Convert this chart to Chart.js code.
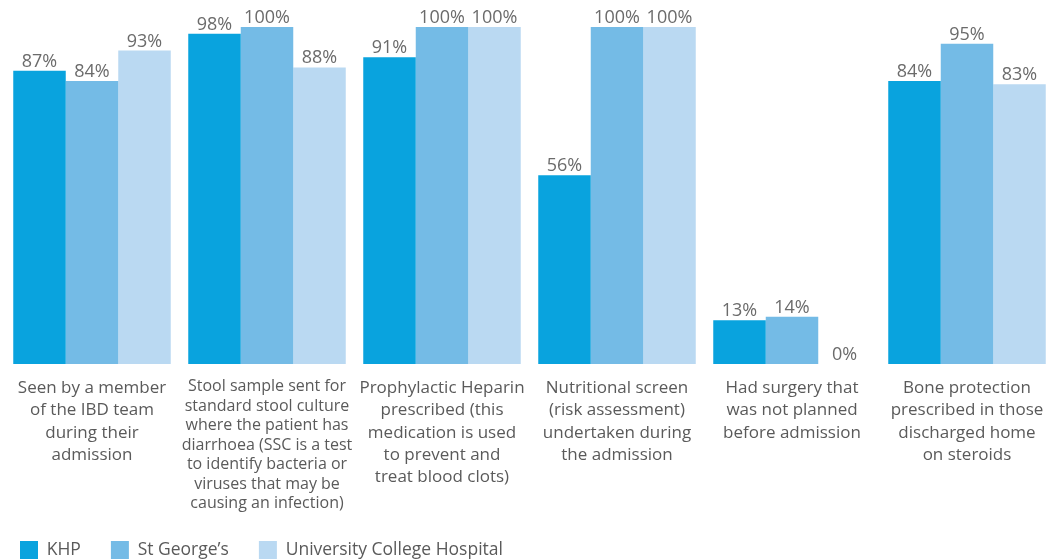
<!DOCTYPE html>
<html>
<head>
<meta charset="utf-8">
<script src="https://cdn.jsdelivr.net/npm/chart.js@4"></script>
<style>
  html, body { margin: 0; padding: 0; background: #fff; overflow: hidden; }
  #wrap { position: relative; width: 1060px; height: 560px; }
</style>
</head>
<body>
<div id="wrap"><canvas id="chart"></canvas></div>
<script>
'use strict';
const CATEGORIES = [
  ['Seen by a member', 'of the IBD team', 'during their', 'admission'],
  ['Stool sample sent for', 'standard stool culture', 'where the patient has', 'diarrhoea (SSC is a test', 'to identify bacteria or', 'viruses that may be', 'causing an infection)'],
  ['Prophylactic Heparin', 'prescribed (this', 'medication is used', 'to prevent and', 'treat blood clots)'],
  ['Nutritional screen', '(risk assessment)', 'undertaken during', 'the admission'],
  ['Had surgery that', 'was not planned', 'before admission'],
  ['Bone protection', 'prescribed in those', 'discharged home', 'on steroids'],
];
const SERIES = ['KHP', 'St George\u2019s', 'University College Hospital'];
const KHP = [87, 98, 91, 56, 13, 84];
const ST_GEORGES = [84, 100, 100, 100, 14, 95];
const UCH = [93, 88, 100, 100, 0, 83];
const COLORS = ['#09a3de', '#74bbe6', '#bad9f2'];

const FONT = '"Open Sans", "Noto Sans", sans-serif';
const BASELINE_Y = 364;

const valueLabels = {
  id: 'valueLabels',
  afterDatasetsDraw(chart) {
    const ctx = chart.ctx;
    ctx.save();
    ctx.font = `18px ${FONT}`;
    ctx.fillStyle = '#6b6b6b';
    ctx.textAlign = 'center';
    ctx.textBaseline = 'alphabetic';
    chart.data.datasets.forEach((ds, i) => {
      chart.getDatasetMeta(i).data.forEach((bar, j) => {
        ctx.fillText(ds.data[j] + '%', bar.x, bar.y - 4);
      });
    });
    ctx.restore();
  },
};

// legend sits in the bottom-left corner, tighter than chart.js places it;
// the x labels (long 2nd category) are allowed to run down behind it
const legendShift = {
  id: 'legendShift',
  afterLayout(chart) {
    const lg = chart.legend;
    if (lg) {
      lg.left = -10;
      lg.top = 511;
    }
    chart.scales.x.bottom = chart.height;
  },
};

new Chart(document.getElementById('chart'), {
  type: 'bar',
  data: {
    labels: CATEGORIES,
    datasets: [
      { label: SERIES[0], data: KHP, backgroundColor: COLORS[0] },
      { label: SERIES[1], data: ST_GEORGES, backgroundColor: COLORS[1] },
      { label: SERIES[2], data: UCH, backgroundColor: COLORS[2] },
    ],
  },
  options: {
    responsive: true, maintainAspectRatio: false,
    animation: false,
    categoryPercentage: 0.9,
    barPercentage: 1.0,
    layout: { padding: { top: 27, left: 4.5, right: 5.5, bottom: 0 } },
    plugins: {
      tooltip: { enabled: false },
      legend: {
        position: 'bottom',
        align: 'start',
        labels: {
          boxWidth: 18, boxHeight: 18, padding: 30,
          color: '#5a5a5a',
          font: { family: FONT, size: 17.5 },
        },
      },
    },
    scales: {
      x: {
        grid: { display: false, drawTicks: false },
        border: { display: false },
        ticks: {
          autoSkip: false, maxRotation: 0, minRotation: 0,
          padding: 13,
          color: '#5a5a5a',
          font: ctx => ctx.index === 1
            ? { family: FONT, size: 16, lineHeight: 1.22 }
            : { family: FONT, size: 17, lineHeight: 1.31 },
        },
        afterFit: s => {
          const lh = s.chart.legend ? s.chart.legend.height : 0;
          s.height = s.chart.height - BASELINE_Y - lh;
        },
      },
      y: { display: false, min: 0, max: 100 },
    },
  },
  plugins: [valueLabels, legendShift],
});
</script>
</body>
</html>
